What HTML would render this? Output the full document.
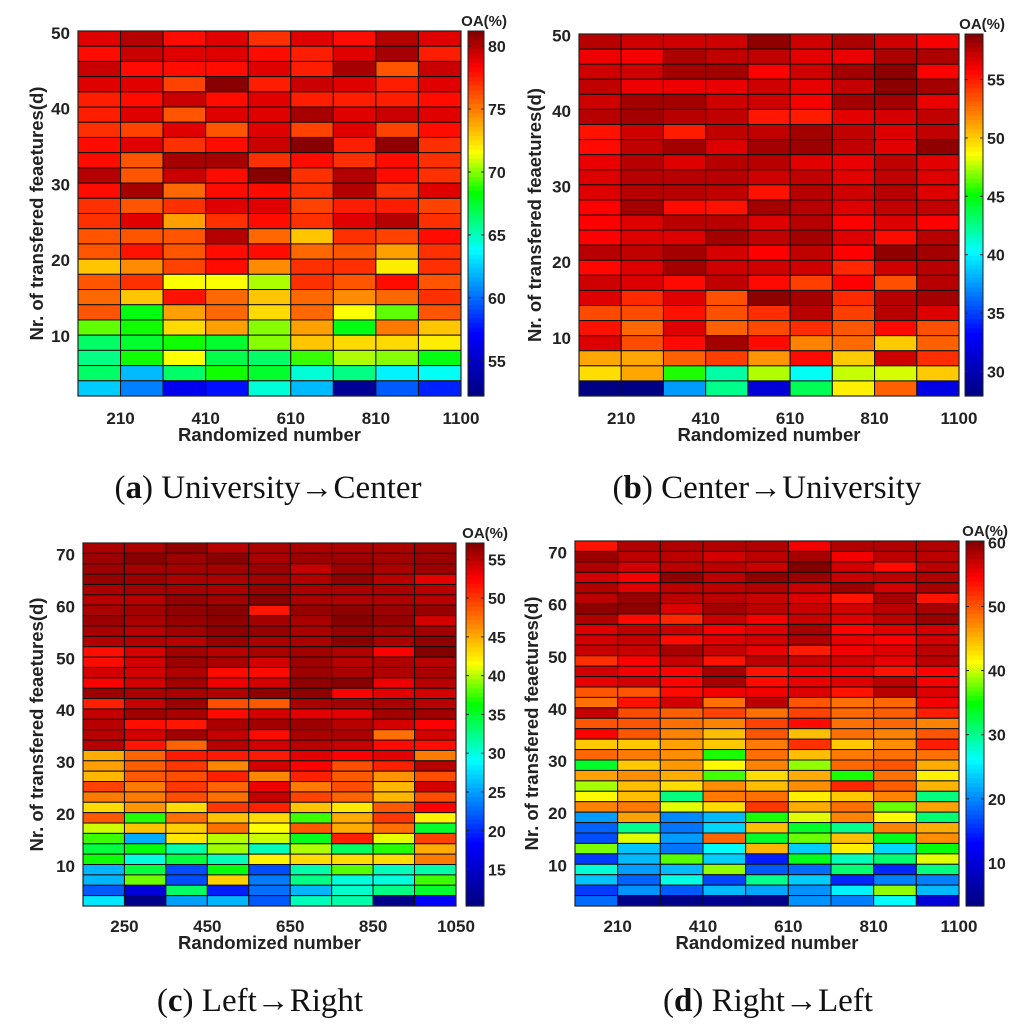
<!DOCTYPE html>
<html><head><meta charset="utf-8">
<style>
body{margin:0;background:#fff;}
svg{display:block;font-family:"Liberation Sans",sans-serif;}
.cap{font-family:"Liberation Serif",serif;font-size:33px;fill:#111;}
</style></head>
<body>
<svg id="fig" width="1024" height="1031" viewBox="0 0 1024 1031" xmlns="http://www.w3.org/2000/svg">
<text class="cap" x="268" y="498" text-anchor="middle">(<tspan font-weight="bold">a</tspan>) University→Center</text>
<text class="cap" x="767" y="498" text-anchor="middle">(<tspan font-weight="bold">b</tspan>) Center→University</text>
<text class="cap" x="260" y="1011" text-anchor="middle">(<tspan font-weight="bold">c</tspan>) Left→Right</text>
<text class="cap" x="768" y="1011" text-anchor="middle">(<tspan font-weight="bold">d</tspan>) Right→Left</text>
</svg>
<script>
// ---- data (rows top -> bottom, 9 columns) ----
const xTicksAB = ["210","410","610","810","1100"];
const xTicksC = ["250","450","650","850","1050"];
const xTicksD = ["210","410","610","810","1100"];
const yTicksAB = [10,20,30,40,50];
const yTicksCD = [10,20,30,40,50,60,70];
const cTicksA = [55,60,65,70,75,80];
const cTicksB = [30,35,40,45,50,55];
const cTicksC = [15,20,25,30,35,40,45,50,55];
const cTicksD = [10,20,30,40,50,60];
const valsA = [
[79,80,78,79,77,79,78,80,79],
[78,79.5,79,79,78,77.5,79,80.3,77.5],
[79.5,78,78,78,79,77.5,80.3,76,79.5],
[79,79,76.5,81,77.5,79.5,79,77.5,79],
[77.5,78,79.5,78,79,77.5,77.5,77.5,78],
[77.5,79,76,79,79,80.3,79,79.5,79],
[77,76.5,79,76,79,76.5,79,76.5,78],
[78,79,77,78,79.5,81,77.5,80.8,77],
[78,76,80.3,80.3,77,78,77,78,77],
[80,76,79.5,78,81,77,80,78,77],
[78,80.3,75.5,78,78,77,80,77,79],
[77,76,77,79,79,76.5,77.5,77.5,76.5],
[77,79,74,77,78,77,79,80,77],
[76,76,76,80,75.5,73,77,76.5,78],
[76,77.8,76,78,78,75.5,76,74,77],
[73,74.5,76.5,78,74.5,77,77,72,77],
[76,77,71.5,71.5,70.5,77,76,78,76],
[75.5,73,77.8,75.5,73,75.5,74.5,75.5,77],
[76,68,74,75.5,72.5,75.5,71.5,69.5,76],
[69.5,68.5,72.5,74,70,74,68,75,73],
[66.5,67.5,68.5,67.5,70,73,72.5,72.5,72],
[66,68.5,71.5,67,66.5,69,70.5,70,68],
[66.5,62,66.5,68.5,67.5,64.5,66,63.5,64],
[62.5,60.5,56.5,57.5,64.5,62,53,59.5,58]];
const valsB = [
[57.5,57,57,57,58.5,57,57.8,57,56],
[56.2,56,57.8,57.3,57.3,56.5,56.3,57.8,57.8],
[57,57,58,58,55.8,57,58,58.6,55.8],
[57.3,56.2,56.2,56.3,57,56.4,57.2,58.6,58],
[57,58,58,57,57,56,58,58,56.3],
[57.5,58,57.5,57.3,55.2,55,56.5,56.8,57.3],
[55.3,57,55,57.3,57.3,58,57.3,56.6,57.3],
[55.5,57.3,58,56.6,58,58.2,57.3,56.5,58.5],
[56.3,57.5,56.6,57.5,57.5,56.5,56.3,57.3,56.5],
[56.6,57.5,57.5,57.5,57,57.3,56.5,57.3,56.6],
[56.6,57.5,57.5,57.3,55.3,57.5,57,57.5,56.6],
[55.8,58,55.5,55.3,58,57.5,56.6,57.3,57.3],
[55.8,56.6,57.5,57.5,56.6,57.5,55.8,56.6,55.8],
[55.8,56.6,56.6,58,57.3,58,56.6,55.5,57.5],
[57.5,57.3,58,56.8,55.8,57.3,55.8,58.5,58],
[55.6,56.6,58,57,57,57,54.7,57,57.5],
[57,56.6,55.5,57.3,55.5,54,55.8,53.5,57.5],
[56.6,54.6,56.6,53.5,58.6,58,54.6,57.5,58],
[53.6,53.6,55.3,53.5,54.5,57.5,54,57.5,56.6],
[55.3,52.8,56.6,53,53.7,54.5,53.3,55.5,53.5],
[56.6,53.6,55.5,58,55.5,52,52.7,50,53],
[51,51,53,54,51.5,55.5,50,57,54.5],
[49.5,51,45.5,42,47.5,40.5,47.8,48,50],
[28,28,37.5,42.5,31.5,43.5,49,53,32]];
const valsC = [
[55.5,55.5,56.5,55,55.5,55.5,55.5,55.5,55.8],
[56,56.8,56,56.8,55.5,56,56,55.8,56],
[56,55.8,55.8,55.8,56,54.5,56,55.5,56],
[56.3,56,55.5,55.5,55.8,55.3,56.5,55,53.5],
[55.5,55.8,55.8,55.5,56.2,55.5,55.5,55.5,55],
[55,55,56.3,55.8,56.8,55.5,55.3,55.3,55],
[55.5,55.8,56.5,56.8,51.5,56.2,56.5,56,56.2],
[56,55.5,56.2,56.5,55.8,55.5,56.8,56.2,54],
[55.5,55,55.8,56.5,56.2,55.5,56.2,55.8,55.8],
[55.3,55.3,55,56.2,55.5,55.5,56.8,55.5,56.5],
[51.8,54,55.8,55,55.5,55.8,55.3,52.5,57],
[52,54,56,55.5,54,56,55,55.3,55],
[54,54,55.3,52,52,56,55.5,55.3,55.5],
[52.5,54,55.8,53,54,56.5,56.8,53,55],
[56,55.5,55.5,55.3,56.5,56.5,52.5,53.5,54],
[51,54.5,56,49,48.5,55.5,55.8,55.5,55],
[54.5,55.8,55.5,52,54,53.5,53.5,55.8,55.8],
[55,51.8,51.5,55.5,55.8,56,55,54,52.5],
[55,54,55.8,54.5,52,55.5,55.5,47.5,54],
[55,51.5,48,55,54,55,54.5,52,51.8],
[45,48,51.3,51.3,51.3,53.5,52.5,53.5,47],
[45.5,48.3,50,46.5,54,52.5,49,51,55],
[44.5,48.5,49,51,46.5,51,48.5,46,49],
[49.5,47,50,48,53,47,49,44.5,54],
[47,47,49,47.5,54.5,49.5,48,44.5,49],
[43,46,43,50,51,44,42.5,48.5,52.5],
[48.5,37,47.5,44,43,37.5,45,50,42],
[40.5,44,43.5,47.5,41.5,48.5,45,47.5,35],
[37.5,25.5,42.5,40,40.5,35.5,51,41,49.5],
[34.5,36,31.5,39.5,31,39.8,33.5,37,45],
[36.5,30,34.5,31,42,43,43,43,47],
[26,34.5,21.5,36,21.5,31.5,38,31,31.5],
[26,38.5,21.5,43.5,23.5,32.5,30,30,37.5],
[22,16,33.5,19.5,23,26,30.5,32.5,35],
[28,10.8,25,26,22,31,31.5,10.8,18]];
const valsD = [
[53.5,58,58,58,58,55,58,58,58],
[59,57.5,57.5,56.5,57.5,58.5,55,57.5,57.5],
[58,56.5,57.5,57.5,57,60,56.5,54,57.5],
[56.5,55,59.5,57.5,59.5,59,57,57.5,58],
[58,56,57.5,57.5,58,57,59,56.5,58.5],
[57.5,59,57.5,57.5,57,56,53.5,58.5,53.5],
[59.5,59.5,56,58.5,57.5,57,56.5,57.5,58.5],
[58,54,52.5,57,55,57,56,57.5,59],
[56,57.5,57,55,56,58.5,54.5,56,56.5],
[56.5,57,54,56,56.5,58,55.5,54.5,56.5],
[57,57,58.5,57,55.5,53,55,56,57.5],
[52,54.5,57,53.5,57.5,57,56.5,55.5,57.5],
[56.5,55,54.5,58.5,53.5,55,55,53.5,54.5],
[55.5,56.5,54.5,58.5,54,55.5,56,57.5,55],
[50,50,54,55,55,56,53.5,57.5,56],
[48.5,53.5,56.5,48.5,57.5,50,48.5,49,55],
[57,50.5,49.5,51,48.5,51,49,49.5,53],
[50,50,48.5,47.5,51,54,48.5,49,47.5],
[54.5,50,47.5,44.5,50,44.5,48.5,47.5,50],
[44,44,46,44,48,52,44,47,53],
[49,48,47,35.5,48.5,44.5,48,48.5,48.5],
[33.5,44,46.5,41.5,47.5,38.5,49,50,45.5],
[46,47,45.5,36.5,43,45.5,35.5,48.5,42],
[39,44.5,43,47,44.5,47,52.5,49.5,45],
[41.5,44.5,30.5,48,48.5,42,44,47.5,30.5],
[47.5,48,40.5,43,51.5,45.5,48.5,37.5,46],
[21,46,20,22.5,35.5,40.5,47.5,41.5,31],
[18,30,19,24,44.5,33.5,30,47.5,45.5],
[17,40.5,21,49,33.5,37.5,44.5,34,47],
[38,23,19,26,45,23.5,42,24,34.5],
[16,22.5,37,23.5,14.5,34,28.5,31,40.5],
[27.5,21,22.5,38.5,17.5,18.5,31,15,30.5],
[23,18,27,16.5,30,23.5,15,19.5,19.5],
[16,20.5,17.5,22.5,21.5,20.5,25.5,38.5,22.5],
[18.5,4,4,4.5,4,20.5,19.5,26,10]];

const NS="http://www.w3.org/2000/svg";
const svg=document.getElementById('fig');
function mk(tag,attrs,parent){const e=document.createElementNS(NS,tag);for(const k in attrs)e.setAttribute(k,attrs[k]);(parent||svg).appendChild(e);return e;}
function cl(v){return Math.max(0,Math.min(1,v));}
const STOPS=[[0,0,0,0.5],[0.17,0,0,1],[0.40,0,1,1],[0.555,0,1,0],[0.667,1,1,0],[0.78,1,0.5,0],[0.9,1,0,0],[1,0.5,0,0]];
function jet(t){t=cl(t);for(let i=1;i<STOPS.length;i++){const a=STOPS[i-1],b=STOPS[i];if(t<=b[0]){const f=(t-a[0])/(b[0]-a[0]);const c=[1,2,3].map(k=>Math.round((a[k]+(b[k]-a[k])*f)*255));return `rgb(${c[0]},${c[1]},${c[2]})`;}}return 'rgb(128,0,0)';}

function panel(id,P,vals,xt,yt,ct){
  const g=mk('g',{});
  
  
  const rows=vals.length,cols=vals[0].length;
  const cw=(P.r-P.l)/cols;
  const ys=v=>P.b-(v-P.ymin)/(P.ymax-P.ymin)*(P.b-P.t);
  const rh=(P.b-P.t)/rows;
  const cs=v=>(v-P.cmin)/(P.cmax-P.cmin);
  for(let i=0;i<rows;i++)for(let j=0;j<cols;j++){
    const c=mk('rect',{x:P.l+j*cw,y:P.t+i*rh,width:cw,height:rh,fill:jet(cs(vals[i][j])),stroke:'#111','stroke-width':1},g);
    
    
  }
  const fr=mk('rect',{x:P.l,y:P.t,width:P.r-P.l,height:P.b-P.t,fill:'none',stroke:'#222','stroke-width':1.2},g);
  
  
  yt.forEach(v=>{
    const t=mk('text',{x:P.l-8,y:ys(v)+6,'text-anchor':'end','font-size':17,'font-weight':'bold',fill:'#222'},g);
    t.textContent=v;
    
    
  });
  xt.forEach((s,k)=>{
    const t=mk('text',{x:P.l+(2*k+1)*cw,y:P.xty,'text-anchor':'middle','font-size':17,'font-weight':'bold',fill:'#222'},g);
    t.textContent=s;
    
    
  });
  const xtit=mk('text',{x:(P.l+P.r)/2,y:P.xty+17,'text-anchor':'middle','font-size':18.5,'font-weight':'bold',fill:'#222'},g);
  xtit.textContent='Randomized number';
  
  
  const cy=(P.t+P.b)/2;
  const ytit=mk('text',{x:P.ytx,y:cy,'text-anchor':'middle','font-size':18.5,'font-weight':'bold',fill:'#222',transform:`rotate(-90 ${P.ytx} ${cy})`},g);
  ytit.textContent='Nr. of transfered feaetures(d)';
  
  
  const n=80,bh=(P.b-P.t)/n;
  for(let k=0;k<n;k++){
    const s=mk('rect',{x:P.cx,y:P.t+k*bh,width:P.cwid,height:bh+0.6,fill:jet(1-(k+0.5)/n)},g);
    
    
  }
  const cf=mk('rect',{x:P.cx,y:P.t,width:P.cwid,height:P.b-P.t,fill:'none',stroke:'#222','stroke-width':1},g);
  
  
  const csy=v=>P.b-(v-P.cmin)/(P.cmax-P.cmin)*(P.b-P.t);
  ct.forEach(v=>{
    const y=csy(v);
    mk('line',{x1:P.cx,x2:P.cx+3,y1:y,y2:y,stroke:'#222'},g);
    mk('line',{x1:P.cx+P.cwid-3,x2:P.cx+P.cwid,y1:y,y2:y,stroke:'#222'},g);
    const t=mk('text',{x:P.cx+P.cwid+4,y:y+6,'font-size':16,'font-weight':'bold',fill:'#222'},g);
    t.textContent=v;
    
    
  });
  const oa=mk('text',{x:P.oax,y:P.t-5,'text-anchor':'end','font-size':15,'font-weight':'bold',fill:'#222'},g);
  oa.textContent='OA(%)';
  
  
}
panel('a',{l:78,r:461,t:31,b:396,ymin:2.08,ymax:50.26,cx:468,cwid:16,cmin:52.2,cmax:81.2,xty:424,ytx:43,oax:507},valsA,xTicksAB,yTicksAB,cTicksA);
panel('b',{l:579,r:959,t:34,b:396,ymin:2.3,ymax:50.2,cx:965,cwid:18,cmin:27.9,cmax:58.9,xty:424,ytx:541,oax:1005},valsB,xTicksAB,yTicksAB,cTicksB);
panel('c',{l:83,r:456,t:543,b:906,ymin:2.3,ymax:72.2,cx:466,cwid:18,cmin:10.3,cmax:57.1,xty:932,ytx:43,oax:508},valsC,xTicksC,yTicksCD,cTicksC);
panel('d',{l:575,r:959,t:541,b:906,ymin:2.2,ymax:72.2,cx:966,cwid:18,cmin:3.3,cmax:60.2,xty:932,ytx:538,oax:1008},valsD,xTicksD,yTicksCD,cTicksD);
</script>
</body></html>
